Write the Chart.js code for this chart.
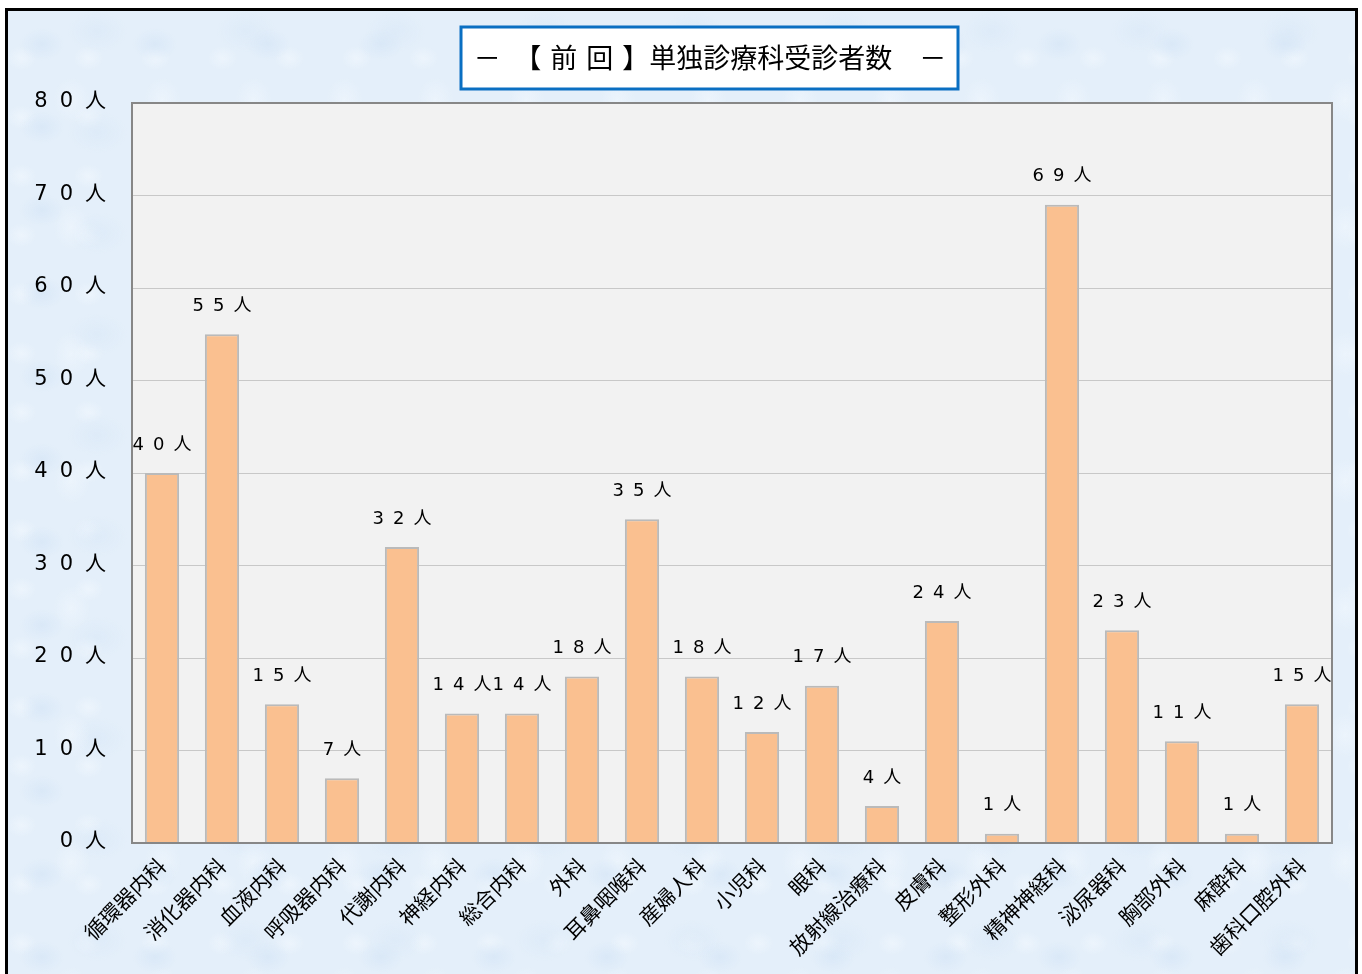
<!DOCTYPE html>
<html>
<head>
<meta charset="utf-8">
<script src="https://cdn.jsdelivr.net/npm/chart.js@4.4.1/dist/chart.umd.min.js"></script>
<style>
  html, body { margin: 0; padding: 0; background: #fff; overflow: hidden; width: 1362px; height: 974px; }
  #frame {
    position: absolute; left: 5px; top: 8px; width: 1347px; height: 1000px;
    border: 3px solid #000;
    background-color: #e4effa;
    background-image:
      radial-gradient(ellipse 30px 22px at 30% 40%, rgba(208, 226, 245, 0.5), transparent 75%),
      radial-gradient(ellipse 24px 30px at 70% 70%, rgba(242, 248, 254, 0.55), transparent 75%),
      radial-gradient(ellipse 40px 28px at 60% 20%, rgba(214, 230, 246, 0.45), transparent 75%),
      radial-gradient(ellipse 20px 16px at 20% 80%, rgba(245, 250, 255, 0.5), transparent 75%);
    background-size: 113px 83px, 91px 127px, 149px 101px, 67px 59px;
  }
  #c { position: absolute; left: 0; top: 0; }
</style>
</head>
<body>
<div id="frame"></div>
<canvas id="c" width="1362" height="974"></canvas>
<script>
const categories = ['循環器内科', '消化器内科', '血液内科', '呼吸器内科', '代謝内科', '神経内科', '総合内科', '外科',
  '耳鼻咽喉科', '産婦人科', '小児科', '眼科', '放射線治療科', '皮膚科', '整形外科', '精神神経科', '泌尿器科',
  '胸部外科', '麻酔科', '歯科口腔外科'];
const patients = [40, 55, 15, 7, 32, 14, 14, 18, 35, 18, 12, 17, 4, 24, 1, 69, 23, 11, 1, 15];
const yTicks = [0, 10, 20, 30, 40, 50, 60, 70, 80];
const unit = '人';
const titleText = '－　【\u2004前\u2004回\u2004】単独診療科受診者数　－';

const numFont = "'DejaVu Sans', 'Noto Sans CJK JP', sans-serif";

// plot background, border, labels and the title box
const decor = {
  id: 'decor',
  beforeDraw(chart) {
    const { ctx, chartArea: a } = chart;
    ctx.save();
    ctx.fillStyle = '#f2f2f2';
    ctx.fillRect(a.left, a.top, a.right - a.left, a.bottom - a.top);
    ctx.restore();
  },
  afterDatasetsDraw(chart) {
    const { ctx, chartArea: a } = chart;
    ctx.save();
    ctx.strokeStyle = '#878787';
    ctx.lineWidth = 2;
    ctx.strokeRect(a.left, a.top, a.right - a.left, a.bottom - a.top);

    // y tick labels
    const y = chart.scales.y;
    ctx.fillStyle = '#000';
    ctx.font = '21px ' + numFont;
    ctx.letterSpacing = '12px';
    ctx.textAlign = 'right';
    ctx.textBaseline = 'middle';
    yTicks.forEach(v => {
      ctx.fillText(v + unit, a.left - 14, y.getPixelForValue(v) - 1);
    });

    // value labels
    ctx.font = '18px ' + numFont;
    ctx.letterSpacing = '9px';
    ctx.textAlign = 'center';
    chart.getDatasetMeta(0).data.forEach((bar, i) => {
      ctx.fillText(patients[i] + unit, bar.x + 4.5, bar.y - 28);
    });

    // title box
    ctx.letterSpacing = '0px';
    ctx.fillStyle = '#fff';
    ctx.fillRect(461, 27, 497, 62);
    ctx.strokeStyle = '#0a6fc2';
    ctx.lineWidth = 3;
    ctx.strokeRect(461, 27, 497, 62);
    ctx.fillStyle = '#000';
    ctx.font = "27px 'Noto Sans CJK JP', sans-serif";
    ctx.fillText(titleText, 710, 58);
    ctx.restore();
  }
};

new Chart(document.getElementById('c'), {
  type: 'bar',
  data: {
    labels: categories,
    datasets: [{
      data: patients,
      backgroundColor: '#fac090',
      borderColor: '#bababa',
      borderWidth: 2,
      barPercentage: 0.57,
      categoryPercentage: 1
    }]
  },
  options: {
    responsive: false,
    animation: false,
    devicePixelRatio: 1,
    layout: { padding: { top: 103, right: 30, left: 0, bottom: 0 } },
    scales: {
      x: {
        grid: { display: false, drawTicks: false },
        border: { display: false },
        ticks: {
          autoSkip: false,
          minRotation: 45,
          maxRotation: 45,
          padding: 10,
          color: '#000',
          font: { family: "'Noto Sans CJK JP', sans-serif", size: 21 }
        },
        afterFit(s) { s.height = 131; }
      },
      y: {
        min: 0,
        max: 80,
        ticks: { display: false, stepSize: 10 },
        grid: { color: '#c8c8c8', drawTicks: false },
        border: { display: false },
        afterFit(s) { s.width = 132; }
      }
    },
    plugins: {
      legend: { display: false },
      tooltip: { enabled: false }
    }
  },
  plugins: [decor]
});
</script>
</body>
</html>
